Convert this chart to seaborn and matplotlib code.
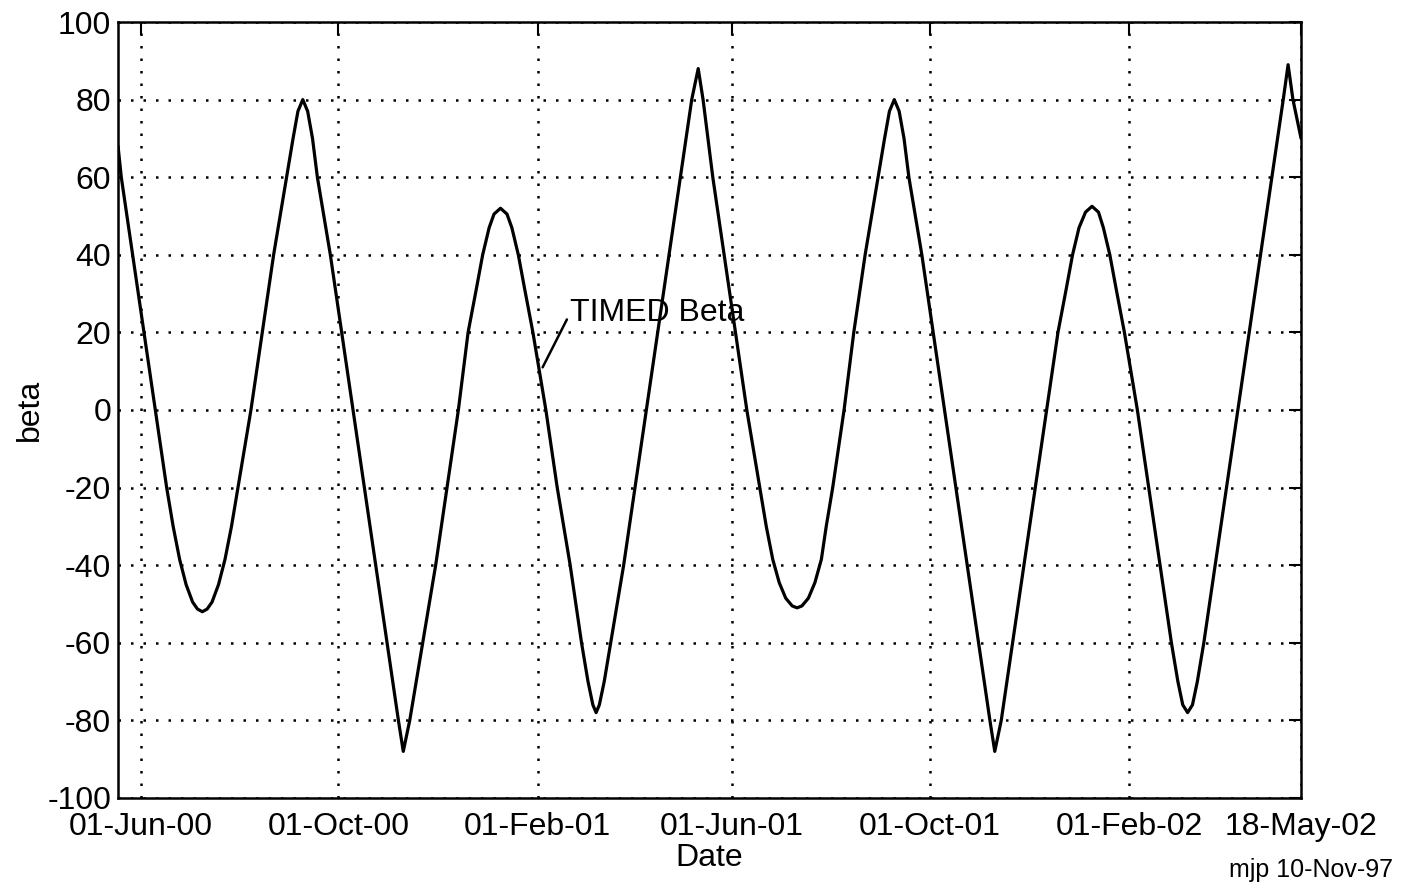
import pandas as pd
import matplotlib
matplotlib.use("Agg")
import matplotlib.pyplot as plt
import seaborn as sns

# beta angle (date, degrees)
dates = [
    "2000-05-18", "2000-05-20", "2000-05-27", "2000-06-03", "2000-06-10", "2000-06-17",
    "2000-06-21", "2000-06-25", "2000-06-29", "2000-07-03", "2000-07-06", "2000-07-09",
    "2000-07-12", "2000-07-15", "2000-07-19", "2000-07-23", "2000-07-27", "2000-07-31",
    "2000-08-08", "2000-08-15", "2000-08-22", "2000-08-30", "2000-09-03", "2000-09-06",
    "2000-09-09", "2000-09-12", "2000-09-15", "2000-09-18", "2000-09-26", "2000-10-03",
    "2000-10-10", "2000-10-17", "2000-10-24", "2000-10-31", "2000-11-07", "2000-11-10",
    "2000-11-14", "2000-11-22", "2000-11-30", "2000-12-07", "2000-12-14", "2000-12-20",
    "2000-12-25", "2000-12-29", "2001-01-02", "2001-01-05", "2001-01-09", "2001-01-13",
    "2001-01-16", "2001-01-20", "2001-01-24", "2001-01-29", "2001-02-06", "2001-02-13",
    "2001-02-21", "2001-02-28", "2001-03-04", "2001-03-07", "2001-03-09", "2001-03-11",
    "2001-03-14", "2001-03-18", "2001-03-26", "2001-04-02", "2001-04-09", "2001-04-16",
    "2001-04-23", "2001-04-30", "2001-05-07", "2001-05-11", "2001-05-14", "2001-05-20",
    "2001-05-27", "2001-06-03", "2001-06-10", "2001-06-18", "2001-06-22", "2001-06-26",
    "2001-06-30", "2001-07-04", "2001-07-08", "2001-07-11", "2001-07-14", "2001-07-18",
    "2001-07-22", "2001-07-26", "2001-07-29", "2001-08-02", "2001-08-09", "2001-08-15",
    "2001-08-22", "2001-08-30", "2001-09-03", "2001-09-06", "2001-09-09", "2001-09-12",
    "2001-09-15", "2001-09-18", "2001-09-26", "2001-10-03", "2001-10-10", "2001-10-17",
    "2001-10-24", "2001-10-31", "2001-11-07", "2001-11-10", "2001-11-14", "2001-11-21",
    "2001-11-28", "2001-12-05", "2001-12-12", "2001-12-19", "2001-12-24", "2001-12-28",
    "2002-01-01", "2002-01-05", "2002-01-09", "2002-01-13", "2002-01-16", "2002-01-20",
    "2002-01-24", "2002-01-29", "2002-02-06", "2002-02-13", "2002-02-20", "2002-02-27",
    "2002-03-03", "2002-03-06", "2002-03-09", "2002-03-12", "2002-03-15", "2002-03-19",
    "2002-03-26", "2002-04-02", "2002-04-09", "2002-04-16", "2002-04-23", "2002-04-30",
    "2002-05-07", "2002-05-10", "2002-05-13", "2002-05-18",
]
beta = [
    68, 60, 40, 20, 0, -20,
    -30, -38.5, -45, -49.5, -51.3, -52,
    -51.3, -49.5, -45, -38.5, -30, -20,
    0, 20, 40, 60, 70, 77,
    80, 77, 70, 60, 40, 20,
    0, -20, -40, -60, -80, -88,
    -80, -60, -40, -20, 0, 20,
    31, 40, 47, 50.5, 52, 50.5,
    47, 40, 31, 20, 0, -20,
    -40, -60, -70, -76, -78, -76,
    -70, -60, -40, -20, 0, 20,
    40, 60, 80, 88, 80, 60,
    40, 20, 0, -20, -30, -38.5,
    -44.5, -48.5, -50.5, -51, -50.5, -48.5,
    -44.5, -38.5, -30, -20, 0, 20,
    40, 60, 70, 77, 80, 77,
    70, 60, 40, 20, 0, -20,
    -40, -60, -80, -88, -80, -60,
    -40, -20, 0, 20, 31, 40,
    47, 51, 52.5, 51, 47, 40,
    31, 20, 0, -20, -40, -60,
    -70, -76, -78, -76, -70, -60,
    -40, -20, 0, 20, 40, 60,
    80, 89, 80, 70,
]

tick_dates = ["2000-06-01", "2000-10-01", "2001-02-01", "2001-06-01",
              "2001-10-01", "2002-02-01", "2002-05-18"]
tick_labels = ["01-Jun-00", "01-Oct-00", "01-Feb-01", "01-Jun-01",
               "01-Oct-01", "01-Feb-02", "18-May-02"]
y_ticks = [-100, -80, -60, -40, -20, 0, 20, 40, 60, 80, 100]

sns.set_theme(style="white")
plt.rcParams["font.family"] = ["Liberation Sans", "DejaVu Sans"]
plt.rcParams["axes.unicode_minus"] = False
plt.rcParams["text.color"] = "black"
plt.rcParams["axes.labelcolor"] = "black"

df = pd.DataFrame({"date": pd.to_datetime(dates), "beta": beta})

fig = plt.figure(figsize=(14.07, 8.88), dpi=100)
ax = fig.add_axes([0.0839, 0.1014, 0.8408, 0.8738])

sns.lineplot(data=df, x="date", y="beta", color="black", linewidth=2.3, ax=ax)

ax.set_xlim(pd.Timestamp("2000-05-18"), pd.Timestamp("2002-05-18"))
ax.set_ylim(-100, 100)
ax.set_xticks(pd.to_datetime(tick_dates))
ax.set_xticklabels(tick_labels)
ax.set_yticks(y_ticks)

ax.grid(True, color="black", linestyle=(0, (1, 4)), linewidth=1.8)
ax.tick_params(direction="in", length=9, width=1.5, top=True, right=True,
               labelsize=23, colors="black")
ax.tick_params(axis="x", pad=10)
ax.tick_params(axis="y", pad=5)
for sp in ax.spines.values():
    sp.set_color("black")
    sp.set_linewidth(1.8)

ax.set_xlabel("Date", fontsize=23, va="center")
ax.xaxis.set_label_coords(0.5, -0.077)
ax.set_ylabel("beta", fontsize=23, va="center")
ax.yaxis.set_label_coords(-0.0744, 0.5)

ax.annotate("TIMED Beta", xy=(pd.Timestamp("2001-02-04"), 11),
            xytext=(pd.Timestamp("2001-02-21"), 25), fontsize=23,
            ha="left", va="center", color="black",
            arrowprops=dict(arrowstyle="-", color="black", lw=1.8,
                            relpos=(0, 0.5), shrinkA=0, shrinkB=0))

fig.text(0.990, 0.0124, "mjp 10-Nov-97", ha="right", va="baseline",
         fontsize=18, color="black")

fig.savefig("out.png", dpi=100)
plt.close(fig)
